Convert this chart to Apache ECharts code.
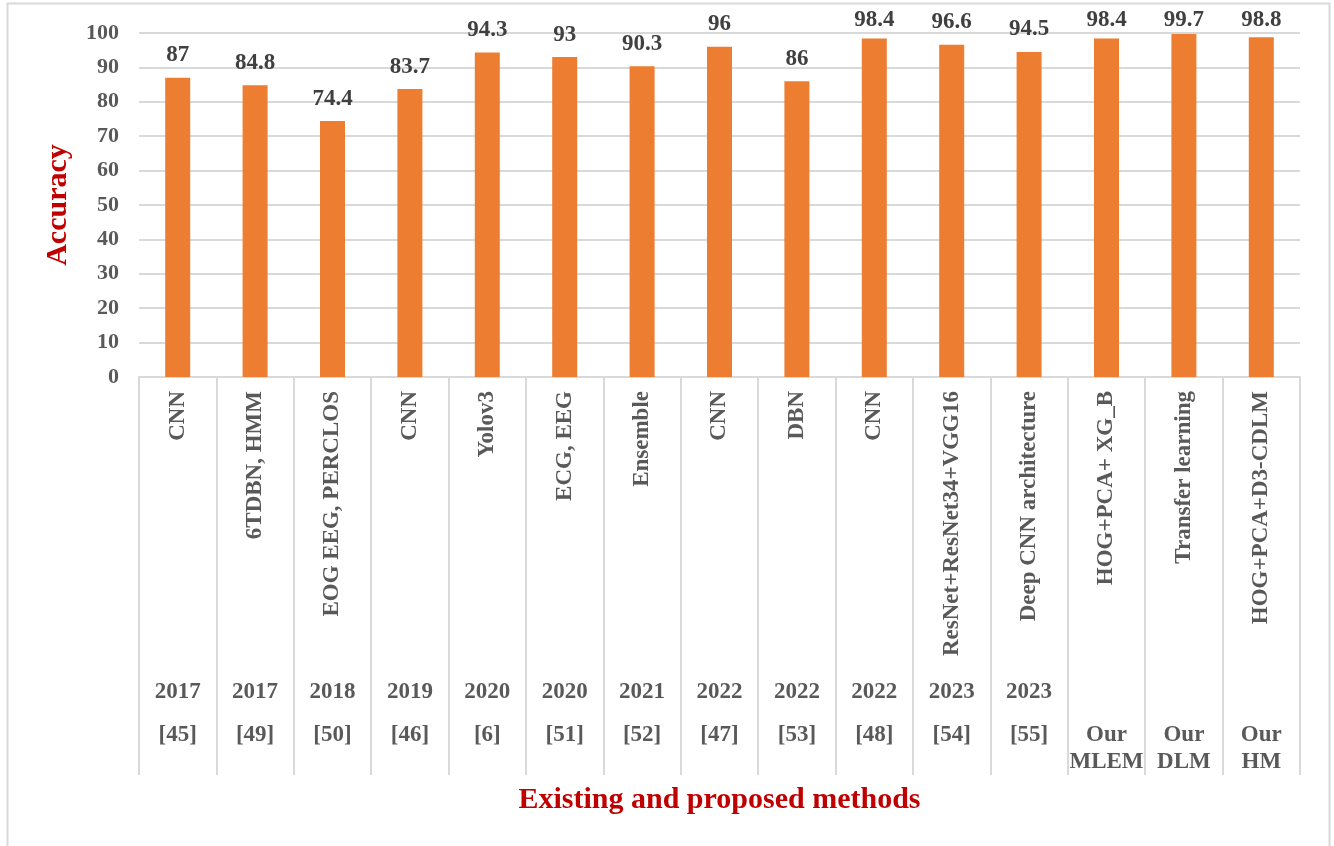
<!DOCTYPE html>
<html>
<head>
<meta charset="utf-8">
<script src="https://cdn.jsdelivr.net/npm/echarts@6/dist/echarts.min.js"></script>
<style>
html,body{margin:0;padding:0;background:#fff;}
#chart{width:1334px;height:846px;}
</style>
</head>
<body>
<div id="chart"></div>
<script>
const methods = ['CNN','6TDBN, HMM','EOG EEG, PERCLOS','CNN','Yolov3','ECG, EEG','Ensemble','CNN','DBN','CNN','ResNet+ResNet34+VGG16','Deep CNN architecture','HOG+PCA+ XG_B','Transfer learning','HOG+PCA+D3-CDLM'];
const years = ['2017','2017','2018','2019','2020','2020','2021','2022','2022','2022','2023','2023','','',''];
const refs = ['[45]','[49]','[50]','[46]','[6]','[51]','[52]','[47]','[53]','[48]','[54]','[55]','Our\nMLEM','Our\nDLM','Our\nHM'];
const accuracy = [87,84.8,74.4,83.7,94.3,93,90.3,96,86,98.4,96.6,94.5,98.4,99.7,98.8];
const yTicks = {min:0, max:100, interval:10};

const grey = '#595959';
const font = '"Liberation Serif","Times New Roman",serif';
const chart = echarts.init(document.getElementById('chart'));
chart.setOption({
  animation:false,
  backgroundColor:'#fff',
  graphic:[{type:'rect', shape:{x:7.5,y:3.5,width:1322,height:900}, style:{fill:null, stroke:'#d9d9d9', lineWidth:2}, silent:true}],
  grid:{left:139,right:34,top:33,bottom:469},
  xAxis:[
    {type:'category', data:methods, position:'bottom',
     axisLine:{lineStyle:{color:'#d9d9d9',width:2}},
     axisTick:{show:true, length:398, lineStyle:{color:'#d9d9d9',width:2}},
     axisLabel:{rotate:90, margin:14, color:grey, fontFamily:font, fontWeight:'bold', fontSize:23, interval:0},
     name:'Existing and proposed methods', nameLocation:'middle', nameGap:408,
     nameTextStyle:{color:'#c00000', fontFamily:font, fontWeight:'bold', fontSize:30}},
    {type:'category', data:years, position:'bottom', offset:303,
     axisLine:{show:false}, axisTick:{show:false},
     axisLabel:{margin:0, color:grey, fontFamily:font, fontWeight:'bold', fontSize:23, lineHeight:24, interval:0}},
    {type:'category', data:refs, position:'bottom', offset:345,
     axisLine:{show:false}, axisTick:{show:false},
     axisLabel:{margin:0, color:grey, fontFamily:font, fontWeight:'bold', fontSize:23, lineHeight:27, interval:0}}
  ],
  yAxis:{type:'value', min:yTicks.min, max:yTicks.max, interval:yTicks.interval,
    axisLine:{show:false}, axisTick:{show:false},
    splitLine:{lineStyle:{color:'#d9d9d9',width:2}},
    axisLabel:{margin:20, color:grey, fontFamily:font, fontWeight:'bold', fontSize:22},
    name:'Accuracy', nameLocation:'middle', nameGap:66,
    nameTextStyle:{color:'#c00000', fontFamily:font, fontWeight:'bold', fontSize:30}},
  series:[{type:'bar', xAxisIndex:0, data:accuracy, barWidth:25,
    itemStyle:{color:'#ed7d31'},
    label:{show:true, position:'top', distance:11, color:'#404040', fontFamily:font, fontWeight:'bold', fontSize:23},
    labelLayout: function(p){ return {dy: Math.max(0, 9 - p.labelRect.y)}; }
  }]
});
</script>
</body>
</html>
